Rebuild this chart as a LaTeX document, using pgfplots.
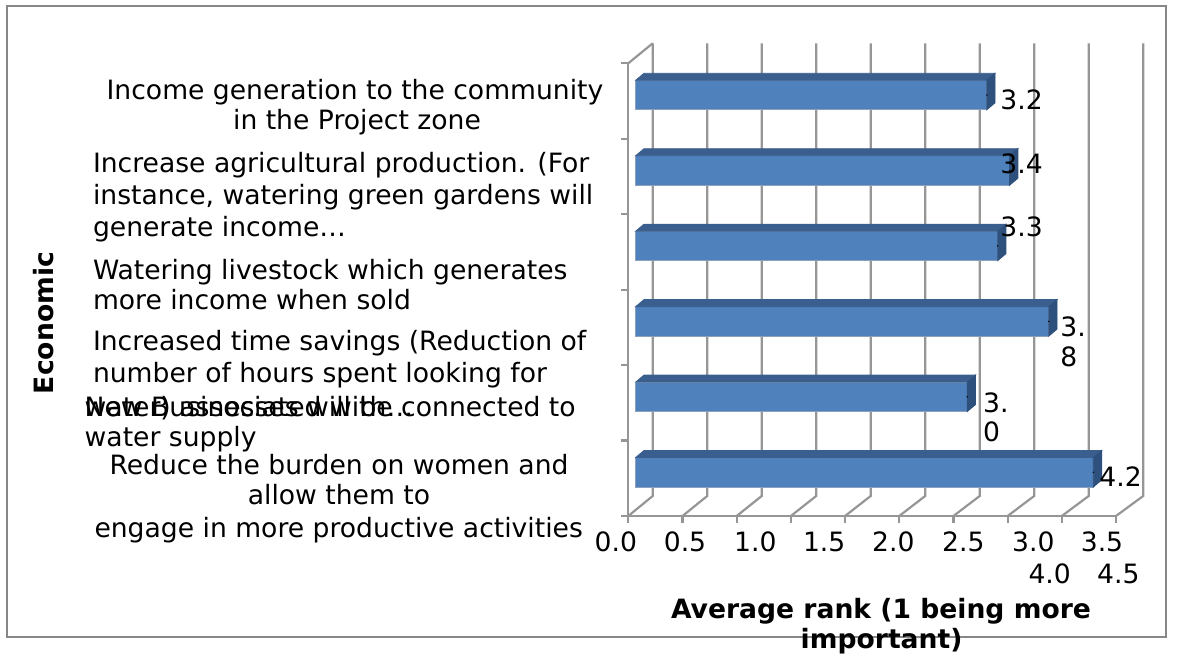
\documentclass[border=0pt]{standalone}
\usepackage{pgfplots}
\pgfplotsset{compat=1.18}
\usepackage{pgfplotstable}
\usepackage{fontspec}
\setmainfont{DejaVu Sans}
\definecolor{gridgray}{RGB}{150,150,150}
\definecolor{borderg}{RGB}{135,135,135}
\definecolor{barfront}{RGB}{79,129,189}
\definecolor{bartop}{RGB}{58,95,142}
\definecolor{barside}{RGB}{46,80,124}
\definecolor{barline}{RGB}{140,160,190}
\pgfplotstableread{
c v
5.5 3.23
4.5 3.44
3.5 3.33
2.5 3.80
1.5 3.05
0.5 4.21
}\bardata
\begin{document}
\begin{tikzpicture}[font=\fontsize{13.3pt}{15pt}\selectfont]
\begin{scope}[x=0.5pt,y=-0.5pt]
\path[use as bounding box] (0,0) rectangle (1180,651);
\draw[borderg,line width=1.1pt] (7.3,5.7) rectangle (1166,637);
\end{scope}

% front plane: axis lines, ticks, walls and gridlines
\begin{axis}[at={(314.15pt,-258pt)}, anchor=south west, scale only axis,
  width=243.85pt, height=226.35pt,
  xmin=0, xmax=4.5, ymin=0, ymax=6,
  axis x line*=bottom, axis y line*=left,
  axis line style={gridgray,line width=1.1pt},
  x axis line style={-}, y axis line style={-},
  xtick={0,0.5,...,4.5}, ytick={0,1,...,6},
  xticklabels={}, yticklabels={},
  tick align=outside, major tick length=3.5pt,
  tick style={gridgray,line width=1.1pt},
  clip=false]
\pgfplotsinvokeforeach{0,0.5,1,1.5,2,2.5,3,3.5,4,4.5}{
  \draw[gridgray,line width=1.1pt] (axis cs:#1,0)
     -- ([xshift={(12.2+0.31*#1)*1pt},yshift=10pt]axis cs:#1,0)
     -- ([xshift={(12.2+0.31*#1)*1pt},yshift=10pt]axis cs:#1,6);
}
\draw[gridgray,line width=1.1pt] (axis cs:0,6) -- ([xshift=12.2pt,yshift=10pt]axis cs:0,6);
\end{axis}

% bars
\begin{axis}[at={(317.85pt,-255pt)}, anchor=south west, scale only axis,
  width=244.575pt, height=226.35pt,
  xmin=0, xmax=4.5, ymin=0, ymax=6, hide axis, clip=false]
\addplot[xbar, bar width=14.75pt, fill=barfront, draw=barline, line width=0.5pt]
  table[x=v,y=c]{\bardata};
\addplot[only marks, mark=*, mark size=0.1pt, scatter,
  mark options={draw=none,fill=none},
  visualization depends on={rawx \as \barlen},
  scatter/@pre marker code/.code={
    \pgfmathsetmacro\barL{\barlen*54.35}
    \fill[bartop] ({-\barL*1pt},7.375pt) -- (0pt,7.375pt) -- (4.15pt,10.875pt) -- ({-\barL*1pt+4.15pt},10.875pt) -- cycle;
    \fill[barside] (0pt,-7.375pt) -- (0pt,7.375pt) -- (4.15pt,10.875pt) -- (4.15pt,-3.875pt) -- cycle;
  },
  scatter/@post marker code/.code={}]
  table[x=v,y=c]{\bardata};
\end{axis}

\begin{scope}[x=0.5pt,y=-0.5pt]
% value labels
\node[anchor=base west,inner sep=0] at (1000,110) {3.2};
\node[anchor=base west,inner sep=0] at (1000,173.3) {3.4};
\node[anchor=base west,inner sep=0] at (1000,237) {3.3};
\node[anchor=base west,inner sep=0] at (1060,337) {3.};
\node[anchor=base west,inner sep=0] at (1060,367) {8};
\node[anchor=base west,inner sep=0] at (982.7,412.7) {3.};
\node[anchor=base west,inner sep=0] at (982.7,441.7) {0};
\node[anchor=base west,inner sep=0] at (1099,486.7) {4.2};
% x tick labels
\node[anchor=base,inner sep=0] at (615.8,551.7) {0.0};
\node[anchor=base,inner sep=0] at (685,551.7) {0.5};
\node[anchor=base,inner sep=0] at (755.3,551.7) {1.0};
\node[anchor=base,inner sep=0] at (824.2,551.7) {1.5};
\node[anchor=base,inner sep=0] at (893.3,551.7) {2.0};
\node[anchor=base,inner sep=0] at (963.3,551.7) {2.5};
\node[anchor=base,inner sep=0] at (1033.3,551.7) {3.0};
\node[anchor=base,inner sep=0] at (1102,551.7) {3.5};
\node[anchor=base,inner sep=0] at (1049.7,583.3) {4.0};
\node[anchor=base,inner sep=0] at (1118.3,583.3) {4.5};
% category labels
\node[anchor=base,inner sep=0] at (355,99.7) {Income generation to the community};
\node[anchor=base,inner sep=0] at (357,129.7) {in the Project zone};
\node[anchor=base west,inner sep=0] at (92.6,173) {Increase agricultural production. (For};
\node[anchor=base west,inner sep=0] at (92.6,204.7) {instance, watering green gardens will};
\node[anchor=base west,inner sep=0] at (92.6,236.3) {generate income…};
\node[anchor=base west,inner sep=0] at (92.6,279.7) {Watering livestock which generates};
\node[anchor=base west,inner sep=0] at (92.6,309.7) {more income when sold};
\node[anchor=base west,inner sep=0] at (92.6,351) {Increased time savings (Reduction of};
\node[anchor=base west,inner sep=0] at (92.6,383) {number of hours spent looking for};
\node[anchor=base west,inner sep=0] at (84.3,416.3) {water) associated with…};
\node[anchor=base west,inner sep=0] at (84.3,416.3) {New Businesses will be connected to};
\node[anchor=base west,inner sep=0] at (84.3,446.3) {water supply};
\node[anchor=base,inner sep=0] at (339,474.7) {Reduce the burden on women and};
\node[anchor=base,inner sep=0] at (339,504.7) {allow them to};
\node[anchor=base,inner sep=0] at (338.7,538) {engage in more productive activities};
% axis titles
\node[rotate=90,inner sep=0,font=\fontsize{13.3pt}{15pt}\selectfont\bfseries] at (43.5,323) {Economic};
\node[anchor=base,inner sep=0,font=\fontsize{13.3pt}{15pt}\selectfont\bfseries] at (881,619) {Average rank (1 being more};
\node[anchor=base,inner sep=0,font=\fontsize{13.3pt}{15pt}\selectfont\bfseries] at (881.6,649) {important)};
\end{scope}
\end{tikzpicture}
\end{document}
